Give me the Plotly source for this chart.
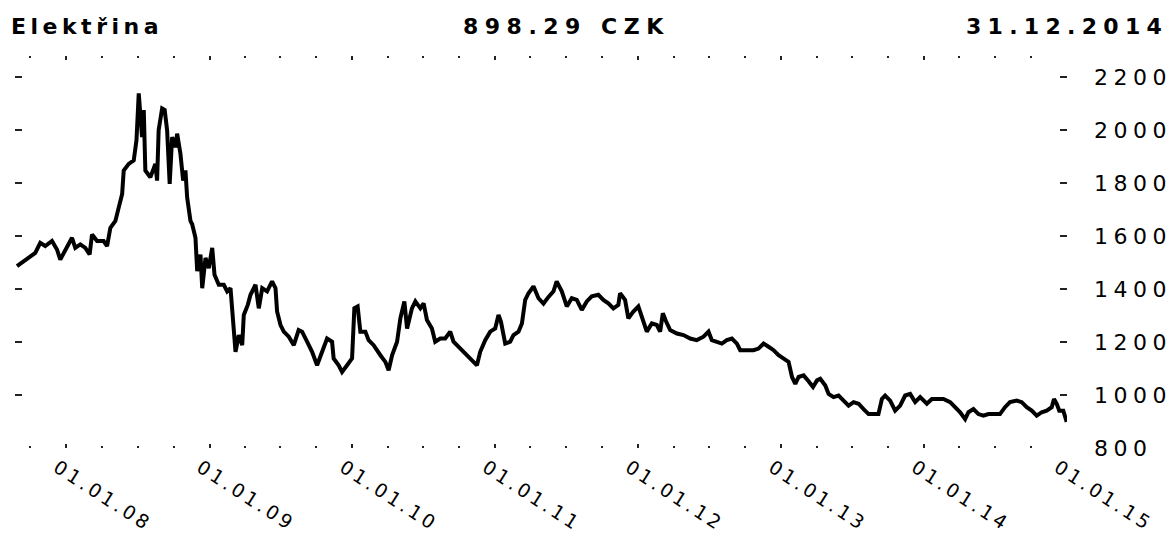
import datetime as dt
import plotly.graph_objects as go

# ---- data (decimal year, price in CZK) ----
year_frac = [
    2007.655, 2007.725, 2007.783, 2007.818, 2007.853, 2007.900, 2007.935, 2007.958, 2007.993,
    2008.040, 2008.063, 2008.098, 2008.133, 2008.163, 2008.180, 2008.215, 2008.261, 2008.285,
    2008.308, 2008.343, 2008.366, 2008.390, 2008.401, 2008.436, 2008.471, 2008.490, 2008.506,
    2008.529, 2008.541, 2008.552, 2008.587, 2008.622, 2008.634, 2008.645, 2008.669, 2008.687,
    2008.704, 2008.722, 2008.739, 2008.762, 2008.774, 2008.797, 2008.816, 2008.832, 2008.844,
    2008.867, 2008.879, 2008.902, 2008.914, 2008.937, 2008.949, 2008.972, 2008.995,
    2009.019, 2009.035, 2009.065, 2009.100, 2009.124, 2009.147, 2009.166, 2009.182, 2009.205,
    2009.229, 2009.240, 2009.268, 2009.287, 2009.322, 2009.345, 2009.369, 2009.403, 2009.438,
    2009.462, 2009.473, 2009.497, 2009.520, 2009.555, 2009.590, 2009.624, 2009.648, 2009.683,
    2009.718, 2009.753, 2009.788, 2009.823, 2009.858, 2009.869, 2009.904, 2009.928, 2009.963,
    2009.998,
    2010.014, 2010.037, 2010.056, 2010.091, 2010.114, 2010.149, 2010.196, 2010.231, 2010.254,
    2010.278, 2010.313, 2010.336, 2010.364, 2010.383, 2010.417, 2010.441, 2010.476, 2010.499,
    2010.522, 2010.557, 2010.580, 2010.615, 2010.650, 2010.685, 2010.708, 2010.743, 2010.778,
    2010.813, 2010.848, 2010.872, 2010.895, 2010.930, 2010.965,
    2011.000, 2011.023, 2011.040, 2011.070, 2011.105, 2011.128, 2011.163, 2011.187, 2011.210,
    2011.233, 2011.268, 2011.303, 2011.338, 2011.373, 2011.408, 2011.430, 2011.466, 2011.501,
    2011.536, 2011.571, 2011.606, 2011.641, 2011.676, 2011.722, 2011.757, 2011.792, 2011.827,
    2011.862, 2011.874, 2011.909, 2011.932, 2011.967,
    2012.002, 2012.026, 2012.061, 2012.096, 2012.131, 2012.154, 2012.173, 2012.196, 2012.224,
    2012.271, 2012.317, 2012.364, 2012.410, 2012.457, 2012.492, 2012.515, 2012.550, 2012.585,
    2012.620, 2012.655, 2012.690, 2012.713, 2012.760, 2012.806, 2012.841, 2012.876, 2012.911,
    2012.946, 2012.981,
    2013.016, 2013.051, 2013.075, 2013.098, 2013.121, 2013.156, 2013.191, 2013.222, 2013.250,
    2013.273, 2013.308, 2013.331, 2013.366, 2013.401, 2013.436, 2013.471, 2013.506, 2013.541,
    2013.576, 2013.611, 2013.646, 2013.680, 2013.704, 2013.727, 2013.762, 2013.797, 2013.832,
    2013.867, 2013.902, 2013.937, 2013.972,
    2014.019, 2014.054, 2014.100, 2014.135, 2014.182, 2014.217, 2014.252, 2014.287, 2014.310,
    2014.345, 2014.380, 2014.415, 2014.450, 2014.485, 2014.531, 2014.566, 2014.601, 2014.648,
    2014.683, 2014.718, 2014.753, 2014.788, 2014.823, 2014.858, 2014.893, 2014.909, 2014.928,
    2014.946, 2014.974, 2014.998,
]
price = [
    1486, 1511, 1536, 1574, 1562, 1581, 1549, 1511, 1543,
    1593, 1555, 1568, 1555, 1530, 1606, 1581, 1581, 1562,
    1631, 1657, 1707, 1758, 1847, 1872, 1885, 1961, 2138,
    1973, 2075, 1847, 1821, 1872, 1809, 1999, 2081, 2075,
    1999, 1796, 1973, 1935, 1986, 1910, 1809, 1847, 1745,
    1657, 1644, 1593, 1467, 1530, 1403, 1517, 1479,
    1555, 1454, 1416, 1416, 1391, 1403, 1251, 1163, 1226,
    1188, 1302, 1340, 1378, 1416, 1327, 1403, 1391, 1429,
    1403, 1315, 1264, 1239, 1220, 1188, 1245, 1239, 1201,
    1163, 1112, 1163, 1213, 1201, 1138, 1112, 1087, 1112,
    1138,
    1327, 1334, 1239, 1239, 1207, 1188, 1150, 1125, 1093,
    1150, 1201, 1289, 1353, 1251, 1327, 1353, 1327, 1346,
    1283, 1251, 1201, 1213, 1213, 1239, 1201, 1182, 1163,
    1144, 1125, 1112, 1163, 1207, 1239,
    1251, 1302, 1277, 1194, 1201, 1226, 1239, 1270, 1359,
    1384, 1410, 1365, 1345, 1370, 1391, 1429, 1391, 1334,
    1365, 1359, 1321, 1353, 1372, 1378, 1359, 1346, 1327,
    1340, 1384, 1359, 1289, 1315,
    1334, 1296, 1239, 1270, 1264, 1239, 1308, 1277, 1245,
    1232, 1226, 1213, 1207, 1220, 1239, 1207, 1201, 1194,
    1207, 1213, 1194, 1169, 1169, 1169, 1175, 1194, 1182,
    1169, 1150,
    1138, 1125, 1068, 1042, 1068, 1074, 1052, 1030, 1055,
    1061, 1036, 1004, 992, 998, 979, 960, 973, 967,
    947, 928, 928, 928, 985, 998, 979, 941, 960,
    998, 1004, 973, 992,
    967, 985, 985, 985, 973, 954, 935, 909, 935,
    947, 928, 922, 928, 928, 928, 954, 973, 979,
    973, 954, 941, 922, 935, 941, 954, 985, 967,
    941, 941, 898.29,
]

tick_dates = ["2008-01-01", "2009-01-01", "2010-01-01", "2011-01-01",
              "2012-01-01", "2013-01-01", "2014-01-01", "2015-01-01"]
tick_labels = ["01.01.08", "01.01.09", "01.01.10", "01.01.11",
               "01.01.12", "01.01.13", "01.01.14", "01.01.15"]
y_ticks = [800, 1000, 1200, 1400, 1600, 1800, 2000, 2200]

title_name = "Elektřina"
title_price = "898.29 CZK"
title_date = "31.12.2014"


def frac_to_date(f):
    y = int(f)
    start = dt.datetime(y, 1, 1)
    nxt = dt.datetime(y + 1, 1, 1)
    return start + (nxt - start) * (f - y)


dates = [frac_to_date(f) for f in year_frac]

FONT = "DejaVu Sans"


def spaced(text, px):
    return '<span style="letter-spacing:%gpx">%s</span>' % (px, text)


fig = go.Figure()
fig.add_trace(go.Scatter(
    x=dates, y=price, mode="lines",
    line=dict(color="black", width=4),
    hoverinfo="skip", showlegend=False,
))

tick_col = "#222222"
fig.update_layout(
    width=1171, height=537,
    margin=dict(l=15, r=104, t=56, b=89, autoexpand=False),
    paper_bgcolor="white", plot_bgcolor="white",
    font=dict(family=FONT, color="black"),
    xaxis=dict(
        range=["2007-08-23", "2015-01-01"],
        automargin=False,
        showgrid=False, zeroline=False, showline=False,
        tickvals=tick_dates,
        ticktext=[spaced(t, 3.5) for t in tick_labels],
        tickangle=33,
        ticks="inside", ticklen=4, tickwidth=1.5, tickcolor=tick_col,
        mirror="ticks",
        tickfont=dict(family=FONT, size=19, color="black"),
        ticklabelstandoff=4,
        ticklabelshift=-9,
        minor=dict(ticks="inside", ticklen=2, tickwidth=1.5, tickcolor=tick_col,
                   dtick="M3", tick0="2008-01-01", showgrid=False),
    ),
    yaxis=dict(
        range=[800, 2279], side="right",
        automargin=False,
        showgrid=False, zeroline=False, showline=False,
        tickvals=y_ticks,
        ticktext=[spaced(str(v), 5.5) for v in y_ticks],
        ticks="inside", ticklen=7, tickwidth=1.5, tickcolor=tick_col,
        mirror="ticks",
        tickfont=dict(family=FONT, size=22, color="black"),
        ticklabelstandoff=26,
    ),
    annotations=[
        dict(text="<b>" + spaced(title_name, 4.5) + "</b>", xref="paper", yref="paper",
             x=-0.006, y=1.074, xanchor="left", yanchor="middle", showarrow=False,
             font=dict(family=FONT, size=22, color="black")),
        dict(text="<b>" + spaced(title_price, 6.5) + "</b>", xref="paper", yref="paper",
             x=0.524, y=1.074, xanchor="center", yanchor="middle", showarrow=False,
             font=dict(family=FONT, size=22, color="black")),
        dict(text="<b>" + spaced(title_date, 6.3) + "</b>", xref="paper", yref="paper",
             x=1.098, y=1.074, xanchor="right", yanchor="middle", showarrow=False,
             font=dict(family=FONT, size=22, color="black")),
    ],
)

fig.write_html(
    "out.html",
    config={"displayModeBar": False},
    post_script="document.body.style.margin='0';document.body.style.overflow='hidden';",
)
